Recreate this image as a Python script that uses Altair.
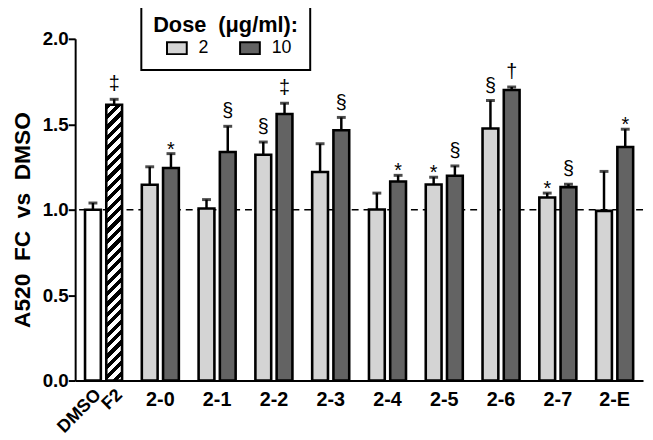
import altair as alt
import pandas as pd

# ---------------- data ----------------
groups = ["ctrl", "2-0", "2-1", "2-2", "2-3", "2-4", "2-5", "2-6", "2-7", "2-E"]
compounds = ["2-0", "2-1", "2-2", "2-3", "2-4", "2-5", "2-6", "2-7", "2-E"]
doses = ["2", "10"]

mean_2 = [1.146, 1.007, 1.321, 1.221, 1.001, 1.147, 1.475, 1.071, 0.993]
sem_2 = [0.105, 0.052, 0.075, 0.165, 0.096, 0.043, 0.164, 0.026, 0.231]
mark_2 = ["", "", "§", "", "", "*", "§", "*", ""]

mean_10 = [1.244, 1.338, 1.560, 1.465, 1.165, 1.199, 1.700, 1.132, 1.367]
sem_10 = [0.084, 0.150, 0.063, 0.075, 0.036, 0.057, 0.018, 0.017, 0.104]
mark_10 = ["*", "§", "‡", "§", "*", "§", "†", "§", "*"]

ctrl_names = ["DMSO", "F2"]
ctrl_mean = [1.000, 1.614]
ctrl_sem = [0.039, 0.032]
ctrl_mark = ["", "‡"]

ref_line = [1.0]

# ---------------- table ----------------
rows = []
for i, g in enumerate(compounds):
    rows.append(dict(group=g, sub="2", kind="compound", mean=mean_2[i], sem=sem_2[i], mark=mark_2[i], name=g))
    rows.append(dict(group=g, sub="10", kind="compound", mean=mean_10[i], sem=sem_10[i], mark=mark_10[i], name=g))
for j, nm in enumerate(ctrl_names):
    rows.append(dict(group="ctrl", sub=doses[j], kind=nm.lower(), mean=ctrl_mean[j], sem=ctrl_sem[j],
                     mark=ctrl_mark[j], name=nm))
df = pd.DataFrame(rows)
df["upper"] = df["mean"] + df["sem"]

# ---------------- layout / style ----------------
W, H = 575, 346
YMAX = 2.0
BAR_W = 16
FONT = "Liberation Sans"
LIGHT, DARK = "#d4d4d4", "#636363"
NB = "\u00a0"

# diagonal hatch for the F2 bar, built as a hard-stop linear gradient
f2_h = ctrl_mean[1] * H / YMAX
k = (BAR_W + f2_h) * BAR_W / (BAR_W ** 2 + f2_h ** 2)
n_stripes = round((BAR_W + f2_h) / 10.5)
stops = []
for i in range(n_stripes):
    a, b, c = i / n_stripes, (i + 0.5) / n_stripes, (i + 1) / n_stripes
    stops += [{"offset": a, "color": "black"}, {"offset": b, "color": "black"},
              {"offset": b, "color": "white"}, {"offset": c, "color": "white"}]
hatch = {"gradient": "linear", "x1": 0, "y1": 0, "x2": k, "y2": k * f2_h / BAR_W, "stops": stops}

x_enc = alt.X(
    "group:N",
    scale=alt.Scale(domain=groups, paddingInner=0, paddingOuter=0),
    axis=alt.Axis(
        title=None, labelAngle=0, ticks=False, labelPadding=9,
        labelExpr="datum.value == 'ctrl' ? '' : datum.value",
        labelFont=FONT, labelFontSize=20, labelFontWeight="bold", labelColor="black",
        domainColor="black", domainWidth=2, grid=False,
    ),
)
xoff_enc = alt.XOffset("sub:N", scale=alt.Scale(domain=doses, paddingInner=0.256, paddingOuter=0.465))
y_title = "A520" + NB + " FC" + NB + " vs" + NB + " DMSO"
y_enc = alt.Y(
    "mean:Q",
    scale=alt.Scale(domain=[0, YMAX], nice=False),
    axis=alt.Axis(
        title=y_title, values=[0, 0.5, 1.0, 1.5, 2.0], format=".1f", grid=False,
        labelFont=FONT, labelFontSize=19, labelFontWeight="bold", labelColor="black", labelPadding=0,
        tickSize=7, tickWidth=2, tickColor="black", domainColor="black", domainWidth=2,
        titleFont=FONT, titleFontSize=23, titleFontWeight="bold", titleColor="black",
        titleAngle=270, titleX=-46, titleY=H / 2 + 10, titleAlign="center", titleBaseline="alphabetic",
    ),
)

base = alt.Chart(df)

ref = alt.Chart(pd.DataFrame({"ref": ref_line})).mark_rule(
    color="black", strokeWidth=1.6, strokeDash=[7, 5]
).encode(y="ref:Q")

bars = base.transform_filter("datum.kind == 'compound'").mark_bar(
    stroke="black", strokeWidth=2.6
).encode(
    x=x_enc, xOffset=xoff_enc, y=y_enc,
    fill=alt.Fill(
        "sub:N",
        scale=alt.Scale(domain=doses, range=[LIGHT, DARK]),
        legend=alt.Legend(
            title=NB + "Dose" + NB + " (μg/ml):", orient="none", legendX=67, legendY=-35.5,
            direction="horizontal", columns=2, padding=12, strokeColor="black",
            titleFont=FONT, titleFontSize=22, titleFontWeight="bold", titleColor="black",
            titlePadding=0, labelFont=FONT, labelFontSize=18, labelColor="black",
            labelOffset=11, columnPadding=17, symbolOffset=13,
            labelExpr="datum.label == '10' ? '10\u00a0\u00a0\u00a0\u00a0\u00a0' : datum.label",
            symbolType="M-1,-0.6H1V0.6H-1Z", symbolSize=400,
            symbolStrokeColor="black", symbolStrokeWidth=2,
        ),
    ),
)

dmso_bar = base.transform_filter("datum.kind == 'dmso'").mark_bar(
    fill="white", stroke="black", strokeWidth=2.6
).encode(x=x_enc, xOffset=xoff_enc, y=y_enc)

f2_bar = base.transform_filter("datum.kind == 'f2'").mark_bar(
    fill=hatch, stroke="black", strokeWidth=2.6
).encode(x=x_enc, xOffset=xoff_enc, y=y_enc)

err = base.mark_rule(color="black", strokeWidth=2.5).encode(
    x=x_enc, xOffset=xoff_enc, y=y_enc, y2="upper:Q"
)
caps = base.mark_tick(color="black", thickness=3, size=9).encode(
    x=x_enc, xOffset=xoff_enc, y="upper:Q"
)

sig_big = base.transform_filter("datum.mark != '' && datum.mark != '*'").mark_text(
    font=FONT, fontSize=20, color="black", baseline="alphabetic", dy=-9
).encode(x=x_enc, xOffset=xoff_enc, y="upper:Q", text="mark:N")

sig_star = base.transform_filter("datum.mark == '*'").mark_text(
    font=FONT, fontSize=20, color="black", baseline="alphabetic", dy=2
).encode(x=x_enc, xOffset=xoff_enc, y="upper:Q", text="mark:N")

ctrl_labels = base.transform_filter("datum.group == 'ctrl'").mark_text(
    font=FONT, fontSize=18, fontWeight="bold", color="black",
    angle=315, align="right", baseline="top", dx=-1,
).encode(x=x_enc, xOffset=xoff_enc, y=alt.value(H + 5), text="name:N")

chart = alt.layer(
    ref, bars, dmso_bar, f2_bar, err, caps, sig_big, sig_star, ctrl_labels
).properties(
    width=W, height=H,
    padding={"left": 68, "top": 28.5, "right": 2, "bottom": 57.5},
    autosize=alt.AutoSizeParams(type="none"),
    background="white",
).configure_view(strokeWidth=0).configure_legend(strokeWidth=2)

chart.save("out.html", embed_options={"renderer": "svg", "actions": False})
